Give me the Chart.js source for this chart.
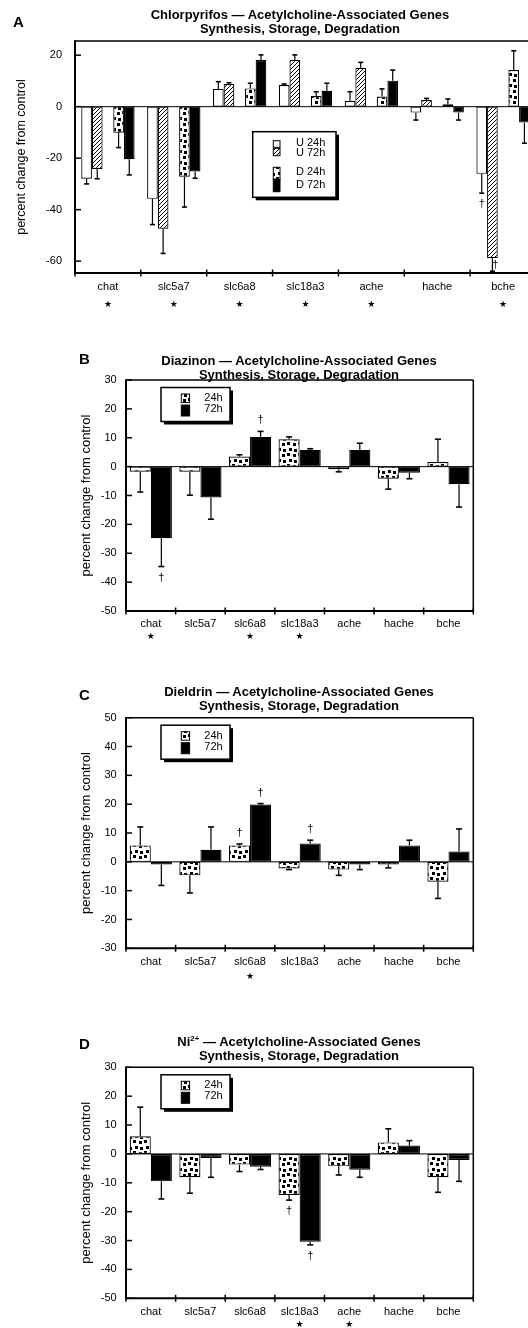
<!DOCTYPE html>
<html><head><meta charset="utf-8">
<script src="https://cdn.jsdelivr.net/npm/chart.js@4.4.0/dist/chart.umd.min.js"></script>
<style>
html,body{margin:0;padding:0;background:#fff;overflow:hidden;}
#wrap{position:relative;width:528px;height:1328px;overflow:hidden;background:#fff;}
canvas{position:absolute;left:0;}
.t{position:absolute;font-family:'Liberation Sans',Arial,sans-serif;font-weight:bold;font-size:13px;line-height:13.5px;text-align:center;white-space:nowrap;transform:translateX(-50%);color:#000;}
.l{position:absolute;font-family:'Liberation Sans',Arial,sans-serif;font-weight:bold;font-size:15px;line-height:15px;color:#000;}
sup{font-size:8px;line-height:0;vertical-align:5px;}
</style></head><body><div id="wrap">
<canvas id="cA" width="545" height="320" style="top:0px"></canvas>
<canvas id="cB" width="528" height="325" style="top:320px"></canvas>
<canvas id="cC" width="528" height="340" style="top:645px"></canvas>
<canvas id="cD" width="528" height="343" style="top:985px"></canvas>
<div class="l" style="left:13px;top:14px">A</div>
<div class="t" style="left:300px;top:8px">Chlorpyrifos — Acetylcholine-Associated Genes<br>Synthesis, Storage, Degradation</div>
<div class="l" style="left:79px;top:351px">B</div>
<div class="t" style="left:299px;top:354px">Diazinon — Acetylcholine-Associated Genes<br>Synthesis, Storage, Degradation</div>
<div class="l" style="left:79px;top:687px">C</div>
<div class="t" style="left:299px;top:685px">Dieldrin — Acetylcholine-Associated Genes<br>Synthesis, Storage, Degradation</div>
<div class="l" style="left:79px;top:1036px">D</div>
<div class="t" style="left:299px;top:1035px">Ni<sup>2+</sup> — Acetylcholine-Associated Genes<br>Synthesis, Storage, Degradation</div>
</div>
<script>
// ---------- DATA ----------
const categories = ['chat','slc5a7','slc6a8','slc18a3','ache','hache','bche'];

// Panel A: Chlorpyrifos (U = undifferentiated, D = differentiated)
const chlorU24     = [-28.0, -35.8,  6.9,  8.4,  2.3, -2.3, -26.1];
const chlorU24Err  = [  2.0,  10.0,  2.8,  0.4,  3.5,  2.9,   7.5];
const chlorU72     = [-24.2, -47.4,  8.8, 18.1, 15.1,  2.6, -58.9];
const chlorU72Err  = [  3.8,   9.6,  0.5,  2.0,  2.1,  0.6,   5.0];
const chlorD24     = [-10.1, -27.2,  7.1,  4.1,  3.9,  0.9,  14.2];
const chlorD24Err  = [  5.8,  11.8,  2.0,  1.7,  3.0,  2.1,   7.5];
const chlorD72     = [-20.4, -25.2, 18.1,  6.2, 10.1, -2.3,  -6.2];
const chlorD72Err  = [  6.1,   2.6,  2.0,  2.9,  4.1,  2.9,   8.0];
const chlorTicks   = [-60, -40, -20, 0, 20];
const chlorStars   = ['chat','slc5a7','slc6a8','slc18a3','ache','bche'];
const chlorDaggers = [[0, 'bche'], [1, 'bche']];

// Panel B: Diazinon
const diaz24     = [-1.8, -1.8,  3.5,  9.5, -0.9, -4.2,  1.6];
const diaz24Err  = [ 7.0,  8.1,  0.6,  0.8,  0.9,  3.6,  7.9];
const diaz72     = [-24.8, -10.7, 10.3, 5.8,  5.8, -2.1, -6.1];
const diaz72Err  = [ 9.8,  7.5,  1.9,  0.4,  2.3,  2.1,  7.9];
const diazTicks  = [-50, -40, -30, -20, -10, 0, 10, 20, 30];
const diazStars  = ['chat','slc6a8','slc18a3'];
const diazDaggers = [[1, 'chat'], [1, 'slc6a8']];

// Panel C: Dieldrin
const diel24     = [ 5.7, -4.7,  5.7, -2.3, -2.7, -0.9, -6.9];
const diel24Err  = [ 6.4,  6.1,  0.5,  0.4,  2.0,  1.2,  5.8];
const diel72     = [-0.9,  4.2, 19.9,  6.4, -0.9,  5.7,  3.6];
const diel72Err  = [ 7.3,  7.9,  0.3,  1.1,  1.8,  1.8,  7.8];
const dielTicks  = [-30, -20, -10, 0, 10, 20, 30, 40, 50];
const dielStars  = ['slc6a8'];
const dielDaggers = [[0, 'slc6a8'], [1, 'slc6a8'], [1, 'slc18a3']];

// Panel D: Ni2+
const ni24     = [ 6.1, -8.1, -3.7, -14.2, -4.3,  4.0, -8.1];
const ni24Err  = [10.1,  5.5,  2.4,   1.8,  3.0,  4.7,  5.2];
const ni72     = [-9.5, -1.4, -4.4, -30.4, -5.5,  2.9, -2.1];
const ni72Err  = [ 6.1,  6.7,  1.0,   1.1,  2.6,  1.7,  7.4];
const niTicks  = [-50, -40, -30, -20, -10, 0, 10, 20, 30];
const niStars  = ['slc18a3','ache'];
const niDaggers = [[0, 'slc18a3'], [1, 'slc18a3']];

// ---------- RENDERING ----------
const FONT = "'Liberation Sans', Arial, Helvetica, sans-serif";
Chart.defaults.font.family = FONT;
Chart.defaults.color = '#000';

function hatchPattern(ctx){
  const c=document.createElement('canvas'); c.width=c.height=4;
  const g=c.getContext('2d'); g.fillStyle='#fff'; g.fillRect(0,0,4,4);
  g.strokeStyle='#000'; g.lineWidth=1;
  g.beginPath(); g.moveTo(0,4); g.lineTo(4,0); g.moveTo(-1,1); g.lineTo(1,-1); g.moveTo(3,5); g.lineTo(5,3); g.stroke();
  return ctx.createPattern(c,'repeat');
}
function dotPattern(ctx){
  const c=document.createElement('canvas'); c.width=c.height=11;
  const g=c.getContext('2d'); g.fillStyle='#fff'; g.fillRect(0,0,11,11);
  g.fillStyle='#000';
  [[1,1],[7,2],[3,7],[8,8]].forEach(([x,y])=>g.fillRect(x,y,3,3));
  return ctx.createPattern(c,'repeat');
}

const decor = {
  id:'decor',
  afterDatasetsDraw(chart, args, o){
    const ctx=chart.ctx, ca=chart.chartArea, xs=chart.scales.x, ys=chart.scales.y;
    ctx.save();
    ctx.strokeStyle='#000'; ctx.fillStyle='#000';
    const seg=(x1,y1,x2,y2,w)=>{ctx.lineWidth=w;ctx.beginPath();ctx.moveTo(x1,y1);ctx.lineTo(x2,y2);ctx.stroke();};
    const y0=ys.getPixelForValue(0);
    seg(ca.left,y0,ca.right,y0,1);
    const ends={};
    chart.data.datasets.forEach((ds,di)=>{
      if(!ds.errors) return;
      const meta=chart.getDatasetMeta(di);
      ds.data.forEach((v,i)=>{
        if(v==null) return;
        const e=ds.errors[i], bar=meta.data[i];
        const yv=ys.getPixelForValue(v+(v<0?-e:e));
        ends[di+'_'+i]={x:bar.x,y:yv,dir:v<0?1:-1};
        seg(bar.x,bar.y,bar.x,yv,1.2);
        seg(bar.x-o.cap,yv,bar.x+o.cap,yv,1.6);
      });
    });
    ctx.font='11px '+FONT; ctx.textAlign='center'; ctx.textBaseline='middle';
    (o.daggers||[]).forEach(([di,name])=>{
      const p=ends[di+'_'+chart.data.labels.indexOf(name)]; if(!p) return;
      let x=p.x, y=p.y+p.dir*11;
      if(y>ca.bottom-4){ y=ca.bottom-8; x+=3; }
      ctx.fillText('†',x,y);
    });
    ys.ticks.forEach(t=>{const py=ys.getPixelForValue(t.value); seg(ca.left,py,ca.left+o.tickLen,py,1.5);});
    for(let i=0;i<=chart.data.labels.length;i++){const px=xs.getPixelForValue(i-0.5); seg(px,ca.bottom-3.5,px,ca.bottom+3.5,1.5);}
    seg(ca.left,ca.top,ca.right,ca.top,1.5);
    seg(ca.right,ca.top,ca.right,ca.bottom,1.5);
    seg(ca.left,ca.top-0.75,ca.left,ca.bottom+1,2);
    seg(ca.left-1,ca.bottom,ca.right+0.75,ca.bottom,2);
    ctx.font='9px "DejaVu Sans"';
    (o.stars||[]).forEach(name=>{const px=xs.getPixelForValue(chart.data.labels.indexOf(name)); ctx.fillText('★',px,ca.bottom+o.starOffset);});
    const L=o.legend;
    if(L){
      const bx=ca.left+L.dx, by=ca.top+L.dy;
      ctx.fillStyle='#000'; ctx.fillRect(bx+3,by+3,L.w,L.h);
      ctx.fillStyle='#fff'; ctx.fillRect(bx,by,L.w,L.h);
      ctx.lineWidth=1.5; ctx.strokeRect(bx,by,L.w,L.h);
      ctx.font='11px '+FONT; ctx.textAlign='left'; ctx.textBaseline='middle';
      L.items.forEach(it=>{
        const ds=chart.data.datasets[it.ds];
        ctx.fillStyle=ds.backgroundColor; ctx.fillRect(bx+L.sx,by+it.sy,L.sw,it.sh);
        ctx.lineWidth=1; ctx.strokeRect(bx+L.sx,by+it.sy,L.sw,it.sh);
        ctx.fillStyle='#000'; ctx.fillText(ds.label,bx+L.tx,by+it.ty);
      });
    }
    ctx.restore();
  }
};

function ds(label, data, errors, fill){
  return {label, data, errors, backgroundColor:fill, borderColor:'#000', borderWidth:1.2, borderSkipped:false};
}

function makeChart(id, datasets, P){
  const cv=document.getElementById(id);
  return new Chart(cv, {
    type:'bar',
    data:{labels:categories, datasets},
    plugins:[decor],
    options:{
      responsive:false, animation:false, devicePixelRatio:1,
      datasets:{bar:{categoryPercentage:P.catPct, barPercentage:1}},
      layout:{padding:{top:P.top,right:P.right,bottom:0,left:0}},
      plugins:{legend:{display:false}, tooltip:{enabled:false}, title:{display:false},
        decor:{cap:P.cap, tickLen:6, stars:P.stars, starOffset:P.starOff, daggers:P.daggers, legend:P.legend}},
      scales:{
        x:{grid:{display:false,drawTicks:false}, border:{display:false},
           ticks:{font:{size:11}, color:'#000', padding:P.xPad, maxRotation:0, autoSkip:false},
           afterFit(s){s.height=P.xH;}},
        y:{min:P.min, max:P.max, grid:{display:false,drawTicks:false}, border:{display:false},
           afterBuildTicks(s){s.ticks=P.ticks.map(v=>({value:v}));},
           ticks:{font:{size:11}, color:'#000', padding:P.yPad},
           afterFit(s){s.width=P.yW;},
           title:{display:true, text:'percent change from control', font:{size:P.yTitleSize}, color:'#000', padding:{top:P.yTitlePad,bottom:0}}}
      }
    }
  });
}

// Panel A
(function(){
  const ctx=document.getElementById('cA').getContext('2d');
  const H=hatchPattern(ctx), D=dotPattern(ctx);
  makeChart('cA', [
    ds('U 24h', chlorU24, chlorU24Err, '#fff'),
    ds('U 72h', chlorU72, chlorU72Err, H),
    {label:'', data:categories.map(()=>null), backgroundColor:'rgba(0,0,0,0)', borderWidth:0},
    ds('D 24h', chlorD24, chlorD24Err, D),
    ds('D 72h', chlorD72, chlorD72Err, '#000')
  ], {catPct:0.81, top:41, right:9, min:-64.6, max:25.5, ticks:chlorTicks, xPad:7, xH:47, yPad:13, yW:75,
      yTitleSize:12.5, yTitlePad:14.5, cap:2.5, stars:chlorStars, starOff:32, daggers:chlorDaggers,
      legend:{dx:177.7, dy:90.7, w:83.3, h:65.6, sx:20.6, sw:6.7, tx:43.3,
        items:[{ds:0,sy:9,sh:6.6,ty:11},{ds:1,sy:16.6,sh:7.4,ty:21.6},{ds:3,sy:35.6,sh:12,ty:40},{ds:4,sy:47.6,sh:12.4,ty:53.3}]}});
})();

function twoSeries(id, a, ae, b, be, P){
  const ctx=document.getElementById(id).getContext('2d');
  const D=dotPattern(ctx);
  P.legend={dx:35, dy:7.5, w:69, h:34, sx:20.3, sw:8.3, tx:43.3,
    items:[{ds:0,sy:6.5,sh:8.5,ty:10.5},{ds:1,sy:17.5,sh:11,ty:21.5}]};
  makeChart(id, [ds('24h', a, ae, D), ds('72h', b, be, '#000')], P);
}
twoSeries('cB', diaz24, diaz24Err, diaz72, diaz72Err,
  {catPct:0.85, top:60, right:54.7, min:-50, max:30, ticks:diazTicks, xPad:6.4, xH:34, yPad:9.3, yW:126,
   yTitleSize:13, yTitlePad:79, cap:3, stars:diazStars, starOff:25.7, daggers:diazDaggers});
twoSeries('cC', diel24, diel24Err, diel72, diel72Err,
  {catPct:0.85, top:72.7, right:54.7, min:-30, max:50, ticks:dielTicks, xPad:7.4, xH:36.7, yPad:9.3, yW:126,
   yTitleSize:13, yTitlePad:79, cap:3, stars:dielStars, starOff:28.7, daggers:dielDaggers});
twoSeries('cD', ni24, ni24Err, ni72, ni72Err,
  {catPct:0.85, top:82.3, right:54.7, min:-50, max:30, ticks:niTicks, xPad:6.8, xH:29.7, yPad:9.3, yW:126,
   yTitleSize:13, yTitlePad:79, cap:3, stars:niStars, starOff:26.7, daggers:niDaggers});
</script>
</body></html>
